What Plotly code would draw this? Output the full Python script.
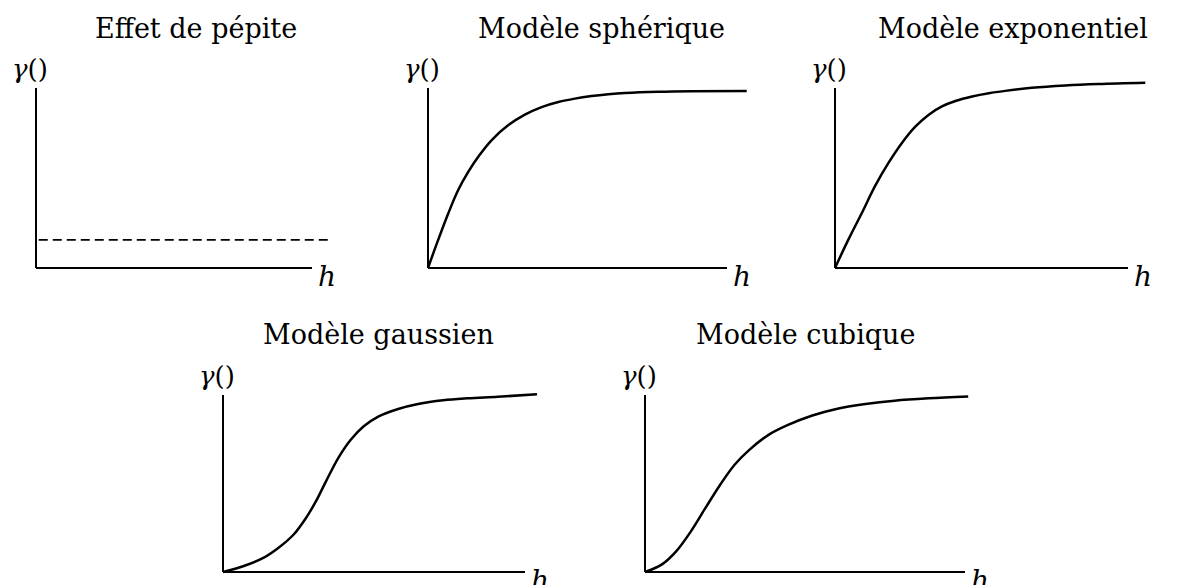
import plotly.graph_objects as go

W, H = 1177, 585

# Panel titles
titles = ["Effet de pépite", "Modèle sphérique", "Modèle exponentiel",
          "Modèle gaussien", "Modèle cubique"]

# Normalised lag h (1 = length of the h axis) and semivariance gamma (1 = top of gamma axis)
nugget_h = [0.01, 1.058]
nugget_g = [0.156, 0.156]

spher_h = [0, 0.034, 0.068, 0.101, 0.135, 0.168, 0.213, 0.269, 0.324, 0.380,
           0.436, 0.491, 0.547, 0.603, 0.659, 0.770, 0.882, 1.066]
spher_g = [0, 0.156, 0.304, 0.433, 0.535, 0.618, 0.711, 0.794, 0.852, 0.894,
           0.922, 0.941, 0.955, 0.965, 0.972, 0.979, 0.982, 0.983]

expo_h = [0, 0.046, 0.092, 0.137, 0.183, 0.229, 0.274, 0.320, 0.365, 0.411,
          0.468, 0.525, 0.581, 0.672, 0.786, 0.900, 1.059]
expo_g = [0, 0.159, 0.307, 0.456, 0.585, 0.696, 0.785, 0.852, 0.898, 0.928,
          0.953, 0.971, 0.984, 1.001, 1.014, 1.022, 1.029]

gauss_h = [0, 0.069, 0.135, 0.184, 0.234, 0.275, 0.308, 0.341, 0.382, 0.423,
           0.465, 0.514, 0.580, 0.646, 0.729, 0.811, 0.910, 1.040]
gauss_g = [0, 0.034, 0.081, 0.137, 0.212, 0.306, 0.400, 0.512, 0.645, 0.747,
           0.822, 0.878, 0.921, 0.949, 0.970, 0.981, 0.990, 1.004]

cubic_h = [0, 0.053, 0.098, 0.144, 0.189, 0.235, 0.280, 0.326, 0.386, 0.447,
           0.523, 0.598, 0.689, 0.780, 0.886, 1.010]
cubic_g = [0, 0.043, 0.118, 0.231, 0.362, 0.493, 0.606, 0.690, 0.775, 0.831,
           0.884, 0.921, 0.949, 0.968, 0.981, 0.991]

# Panel frames in pixels: origin x, origin y, h-axis length, gamma-axis height
frames = [
    (36, 268, 276, 180),
    (428, 268, 299, 180),
    (835, 268, 293, 180),
    (223, 572, 302, 177),
    (645, 572, 320, 177),
]
title_pos = [(196, 28), (601, 28), (1013, 28), (378, 334), (806, 334)]

XR = (-0.03, 1.12)
YR = (-0.06, 1.12)

fig = go.Figure()
layout = dict(
    width=W, height=H, margin=dict(l=0, r=0, t=0, b=0),
    paper_bgcolor="white", plot_bgcolor="rgba(0,0,0,0)",
    showlegend=False,
)

annotations = []
shapes = []
series = [
    (nugget_h, nugget_g, "dash"),
    (spher_h, spher_g, "solid"),
    (expo_h, expo_g, "solid"),
    (gauss_h, gauss_g, "solid"),
    (cubic_h, cubic_g, "solid"),
]

serif = "DejaVu Serif"

for i, ((ox, oy, L, Hh), (hx, gy, dash)) in enumerate(zip(frames, series)):
    n = "" if i == 0 else str(i + 1)
    xa, ya = "x" + n, "y" + n
    x0 = ox + XR[0] * L
    x1 = ox + XR[1] * L
    ybot = oy - YR[0] * Hh
    ytop = oy - YR[1] * Hh
    layout["xaxis" + n] = dict(domain=[x0 / W, x1 / W], range=list(XR),
                               visible=False, anchor=ya, fixedrange=True)
    layout["yaxis" + n] = dict(domain=[1 - ybot / H, 1 - ytop / H], range=list(YR),
                               visible=False, anchor=xa, fixedrange=True)

    fig.add_trace(go.Scatter(
        x=hx, y=gy, xaxis=xa, yaxis=ya, mode="lines",
        line=dict(color="black", width=2.5 if dash == "solid" else 1.6,
                  dash="9px,5px" if dash == "dash" else "solid",
                  shape="spline" if dash == "solid" else "linear", smoothing=1.0),
        hoverinfo="skip",
    ))

    # axes drawn as plain lines from the origin
    shapes.append(dict(type="line", xref=xa, yref=ya, x0=0, y0=0, x1=1, y1=0,
                       line=dict(color="black", width=2)))
    shapes.append(dict(type="line", xref=xa, yref=ya, x0=0, y0=0, x1=0, y1=1,
                       line=dict(color="black", width=2)))

    annotations.append(dict(text="<i>h</i>", xref="paper", yref="paper",
                            x=(ox + L + 4) / W, y=1 - (oy + 8) / H,
                            xanchor="left", yanchor="middle", showarrow=False,
                            font=dict(family=serif, size=28, color="black")))
    annotations.append(dict(text="<i>γ</i>()", xref="paper", yref="paper",
                            x=(ox - 26) / W, y=1 - (oy - Hh - 19) / H,
                            xanchor="left", yanchor="middle", showarrow=False,
                            font=dict(family=serif, size=26, color="black")))
    tx, ty = title_pos[i]
    annotations.append(dict(text=titles[i], xref="paper", yref="paper",
                            x=tx / W, y=1 - ty / H, xanchor="center", yanchor="middle",
                            showarrow=False,
                            font=dict(family=serif, size=27, color="black")))

layout["annotations"] = annotations
layout["shapes"] = shapes
fig.update_layout(**layout)
fig.write_html("out.html")
